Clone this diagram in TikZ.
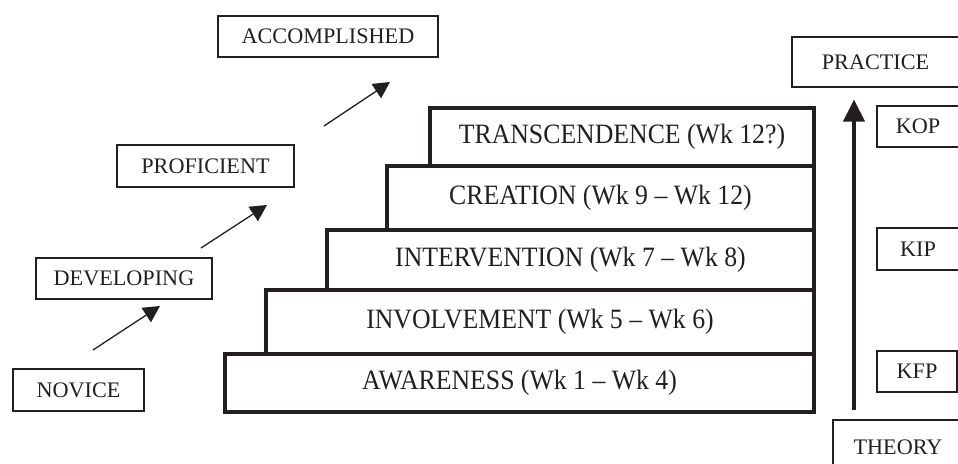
\documentclass[tikz,border=0pt]{standalone}
\usepackage{fontspec}
\setmainfont{Liberation Serif}
\newfontfamily\stepfont[FakeStretch=0.92]{Liberation Serif}
\usetikzlibrary{arrows.meta}
\definecolor{ink}{RGB}{35,31,32}
\tikzset{
  lbl/.style={draw=ink, line width=1.1pt, rectangle, inner sep=0pt, text=ink,
    font=\fontsize{22.2}{25}\selectfont},
  stepbox/.style={draw=ink, line width=4pt, rectangle, inner sep=0pt, text=ink,
    font=\stepfont\fontsize{28}{31}\selectfont},
  thinarrow/.style={draw=ink, line width=1.3pt, -{Triangle[length=16.5pt,width=17pt]}},
  bigarrow/.style={draw=ink, line width=4pt, -{Triangle[length=22pt,width=21pt]}}
}
\begin{document}
\begin{tikzpicture}[x=1pt,y=-1pt]
\useasboundingbox (0,0) rectangle (958,463);
\clip (0,0) rectangle (958,463);
\fill[white] (0,0) rectangle (958,463);
% left labels
\node[lbl, minimum width=220, minimum height=41] (acc) at (328,36.5) {ACCOMPLISHED};
\node[lbl, minimum width=177, minimum height=42] (pro) at (205.5,166) {PROFICIENT};
\node[lbl, minimum width=176, minimum height=41] (dev) at (124,278.5) {DEVELOPING};
\node[lbl, minimum width=131, minimum height=42] (nov) at (78.5,390) {NOVICE};
% steps
\node[stepbox, minimum width=589, minimum height=58] (aw) at (519.5,383) {AWARENESS (Wk 1 – Wk 4)};
\node[stepbox, minimum width=548, minimum height=64] (iv) at (540,322) {INVOLVEMENT (Wk 5 – Wk 6)};
\node[stepbox, minimum width=487, minimum height=60] (in) at (570.5,260) {INTERVENTION (Wk 7 – Wk 8)};
\node[stepbox, minimum width=427, minimum height=64.5] (cr) at (600.5,197.75) {CREATION (Wk 9 – Wk 12)};
\node[stepbox, minimum width=384, minimum height=58] (tr) at (622,136.5) {TRANSCENDENCE (Wk 12?)};
% right labels
\node[lbl, minimum width=167, minimum height=50] (pra) at (875.5,62) {PRACTICE};
\node[lbl, minimum width=82, minimum height=41] (kop) at (918,126.5) {KOP};
\node[lbl, minimum width=82, minimum height=42] (kip) at (918,249) {KIP};
\node[lbl, minimum width=80, minimum height=41] (kfp) at (917,371.5) {KFP};
\node[lbl, minimum width=130, minimum height=54] (the) at (898,447) {THEORY};
% arrows
\coordinate (a1s) at (93,350);  \coordinate (a1e) at (160,306);
\coordinate (a2s) at (201,248); \coordinate (a2e) at (267,205);
\coordinate (a3s) at (324,126); \coordinate (a3e) at (390,82);
\coordinate (vs) at (854,410);  \coordinate (ve) at (854,99.5);
\draw[thinarrow] (a1s) -- (a1e);
\draw[thinarrow] (a2s) -- (a2e);
\draw[thinarrow] (a3s) -- (a3e);
\draw[bigarrow] (vs) -- (ve);
\end{tikzpicture}
\end{document}
